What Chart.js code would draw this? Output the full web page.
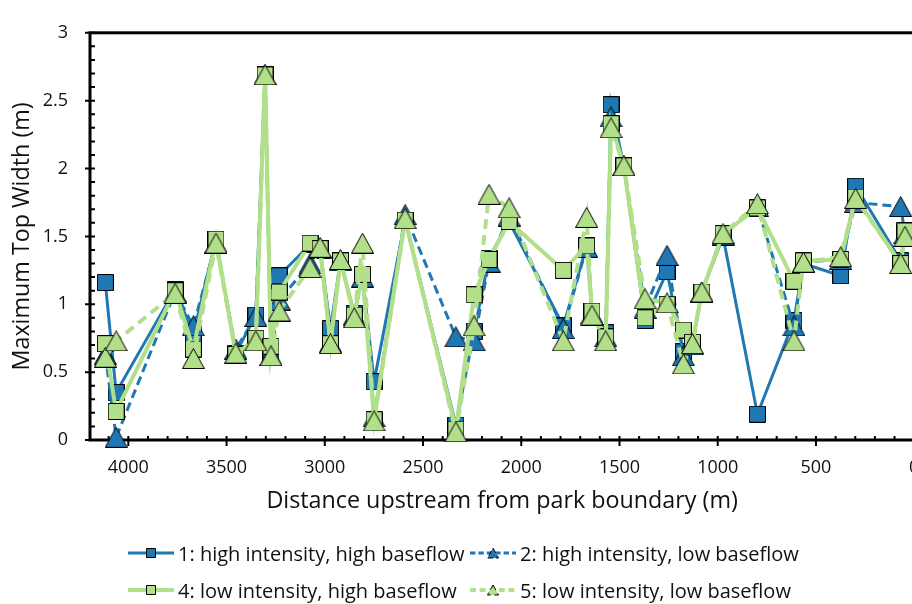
<!DOCTYPE html>
<html lang="en">
<head>
    <meta charset="UTF-8">
    <title>Maximum top width</title>
    <style>
        body { margin: 0; background: #fff; }
        #wrap { position: relative; width: 912px; height: 604px; overflow: hidden; }
        #legend { position: absolute; left: 0; top: 0; width: 912px; height: 604px; pointer-events: none;
                  font-family: "Open Sans", sans-serif; font-size: 20px; color: #111; }
        .item { position: absolute; display: flex; align-items: center; white-space: nowrap; height: 30px; }
        .item canvas { margin-right: 4px; }
    </style>
</head>
<body>
    <div id="wrap">
        <canvas id="myChart" width="940" height="604"></canvas>
        <div id="legend"></div>
    </div>

    <script src="https://cdn.jsdelivr.net/npm/chart.js@4"></script>
    <script>
        // stations (m upstream of the park boundary) and max top width per scenario
        const distances = [4117, 4062, 3762, 3669, 3554, 3453, 3351, 3304, 3274, 3232,
            3075, 3024, 2971, 2920, 2850, 2808, 2749, 2591, 2333, 2240,
            2164, 2062, 1786, 1667, 1640, 1570, 1543, 1478, 1370, 1258,
            1175, 1129, 1081, 973, 798, 612, 564, 374, 298, 69, 47]
        const highHigh = [1.16, 0.35, 1.11, 0.78, 1.48, 0.64, 0.92, 2.69, 0.61, 1.21,
            1.44, 1.41, 0.82, 1.32, 0.93, 1.21, 0.43, 1.62, 0.11, 0.80,
            1.34, 1.61, 0.84, 1.43, 0.95, 0.79, 2.47, 2.02, 0.88, 1.24,
            0.65, 0.70, 1.09, 1.50, 0.19, 0.88, 1.30, 1.21, 1.87, 1.32, 1.52]
        const highLow = [0.63, 0.02, 1.09, 0.84, 1.45, 0.67, 0.91, 2.69, 0.62, 1.03,
            1.30, 1.41, 0.72, 1.32, 0.92, 1.20, 0.17, 1.66, 0.76, 0.73,
            1.31, 1.65, 0.82, 1.42, 0.93, 0.76, 2.38, 2.02, 0.97, 1.36,
            0.62, 0.70, 1.09, 1.51, 1.72, 0.84, 1.31, 1.33, 1.75, 1.72, 1.52]
        const lowHigh = [0.71, 0.21, 1.10, 0.67, 1.48, 0.63, 0.75, 2.69, 0.69, 1.09,
            1.45, 1.41, 0.71, 1.32, 0.92, 1.22, 0.15, 1.62, 0.08, 1.07,
            1.33, 1.61, 1.25, 1.43, 0.95, 0.76, 2.33, 2.02, 0.90, 1.00,
            0.81, 0.72, 1.09, 1.52, 1.71, 1.17, 1.32, 1.33, 1.79, 1.30, 1.54]
        const lowLow = [0.61, 0.73, 1.08, 0.60, 1.45, 0.64, 0.73, 2.69, 0.62, 0.95,
            1.27, 1.42, 0.71, 1.33, 0.90, 1.45, 0.14, 1.63, 0.06, 0.84,
            1.81, 1.71, 0.73, 1.64, 0.92, 0.73, 2.30, 2.02, 1.04, 1.01,
            0.56, 0.71, 1.09, 1.52, 1.74, 0.73, 1.31, 1.35, 1.78, 1.30, 1.50]

        const seriesNames = ['1: high intensity, high baseflow', '2: high intensity, low baseflow',
            '4: low intensity, high baseflow', '5: low intensity, low baseflow']
        const xTicks = [4000, 3500, 3000, 2500, 2000, 1500, 1000, 500, 0]
        const yTicks = [0, 0.5, 1, 1.5, 2, 2.5, 3]

        const BLUE = '#1f78b4'
        const GREEN = '#b2df8a'
        const FONT = '"Open Sans", sans-serif'

        function drawMarker(ctx, shape, fill, cx, cy, w, h) {
            ctx.fillStyle = fill
            ctx.strokeStyle = '#000'
            ctx.lineWidth = 1
            ctx.beginPath()
            if (shape === 'square') {
                ctx.rect(cx - w / 2, cy - h / 2, w, h)
            } else {
                ctx.moveTo(cx, cy - h / 2)
                ctx.lineTo(cx + w / 2, cy + h / 2)
                ctx.lineTo(cx - w / 2, cy + h / 2)
                ctx.closePath()
            }
            ctx.fill()
            ctx.stroke()
        }

        function markerImage(shape, fill) {
            const c = document.createElement('canvas')
            const w = shape === 'square' ? 17 : 23
            const h = shape === 'square' ? 17 : 21
            c.width = w
            c.height = h
            drawMarker(c.getContext('2d'), shape, fill, w / 2, h / 2, w - 1, h - 1)
            return c
        }

        const styles = [
            { color: BLUE, shape: 'square', dash: [], width: 3 },
            { color: BLUE, shape: 'triangle', dash: [9, 5], width: 3 },
            { color: GREEN, shape: 'square', dash: [], width: 4 },
            { color: GREEN, shape: 'triangle', dash: [10, 6], width: 4 }
        ]
        const values = [highHigh, highLow, lowHigh, lowLow]

        const datasets = values.map((vals, i) => ({
            label: seriesNames[i],
            data: vals.map((v, j) => ({ x: distances[j], y: v })),
            borderColor: styles[i].color,
            borderWidth: styles[i].width,
            borderDash: styles[i].dash,
            pointStyle: markerImage(styles[i].shape, styles[i].color),
            tension: 0,
            clip: false,
            order: 4 - i
        }))

        // frame and Excel-style major/minor tick marks
        const axisFrame = {
            id: 'axisFrame',
            beforeDatasetsDraw(chart) {
                const { ctx, chartArea: a, scales: { x, y } } = chart
                ctx.save()
                ctx.strokeStyle = '#000'
                ctx.lineWidth = 2
                ctx.beginPath()
                for (let v = 0; v <= 4100; v += 100) {
                    const px = x.getPixelForValue(v)
                    if (v % 500 === 0) { ctx.moveTo(px, a.bottom - 4); ctx.lineTo(px, a.bottom + 6) }
                    else { ctx.moveTo(px, a.bottom - 4); ctx.lineTo(px, a.bottom) }
                }
                for (let k = 0; k <= 30; k++) {
                    const py = y.getPixelForValue(k / 10)
                    if (k % 5 === 0) { ctx.moveTo(a.left - 5, py); ctx.lineTo(a.left + 5, py) }
                    else { ctx.moveTo(a.left, py); ctx.lineTo(a.left + 5, py) }
                }
                ctx.stroke()
                ctx.lineWidth = 3
                ctx.strokeRect(a.left, a.top, a.right - a.left, a.bottom - a.top)
                ctx.restore()
            }
        }

        const ctx = document.getElementById('myChart').getContext('2d')
        const chart = new Chart(ctx, {
            type: 'line',
            data: { datasets },
            options: {
                responsive: false,
                animation: false,
                devicePixelRatio: 1,
                layout: { padding: { top: 17.5, right: 25.8, bottom: 86, left: 0 } },
                plugins: { legend: { display: false }, tooltip: { enabled: false } },
                scales: {
                    x: {
                        type: 'linear',
                        reverse: true,
                        min: 0,
                        max: 4195,
                        grid: { display: false, drawTicks: false },
                        border: { display: false },
                        afterBuildTicks: s => { s.ticks = xTicks.map(v => ({ value: v })) },
                        afterFit: s => { s.height = 78 },
                        ticks: { color: '#111', font: { family: FONT, size: 18 }, padding: 17,
                                 maxRotation: 0, autoSkip: false, callback: v => String(v) },
                        title: { display: true, text: 'Distance upstream from park boundary (m)',
                                 color: '#111', font: { family: FONT, size: 23.3 }, padding: { top: 0, bottom: 3 } }
                    },
                    y: {
                        min: 0,
                        max: 3,
                        grid: { display: false, drawTicks: false },
                        border: { display: false },
                        afterBuildTicks: s => { s.ticks = yTicks.map(v => ({ value: v })) },
                        afterFit: s => { s.width = 90 },
                        ticks: { color: '#111', font: { family: FONT, size: 18 }, padding: 22,
                                 callback: v => String(v) },
                        title: { display: true, text: 'Maximum Top Width (m)',
                                 color: '#111', font: { family: FONT, size: 23.3 }, padding: { top: 8, bottom: 0 } }
                    }
                }
            },
            plugins: [axisFrame]
        })

        // two-row legend under the plot
        const legend = document.getElementById('legend')
        const slots = [[128, 553], [470, 553], [128, 590], [470, 590]]
        styles.forEach((st, i) => {
            const item = document.createElement('div')
            item.className = 'item'
            item.style.left = slots[i][0] + 'px'
            item.style.top = (slots[i][1] - 15) + 'px'
            const c = document.createElement('canvas')
            c.width = 46
            c.height = 20
            const g = c.getContext('2d')
            g.strokeStyle = st.color
            g.lineWidth = st.width
            g.setLineDash(st.dash.map(d => d * 0.6))
            g.beginPath()
            g.moveTo(0, 10)
            g.lineTo(46, 10)
            g.stroke()
            if (st.shape === 'square') drawMarker(g, 'square', st.color, 23, 10, 9, 9)
            else drawMarker(g, 'triangle', st.color, 23, 10, 11, 10)
            const t = document.createElement('span')
            t.textContent = seriesNames[i]
            item.appendChild(c)
            item.appendChild(t)
            legend.appendChild(item)
        })
    </script>
</body>
</html>
